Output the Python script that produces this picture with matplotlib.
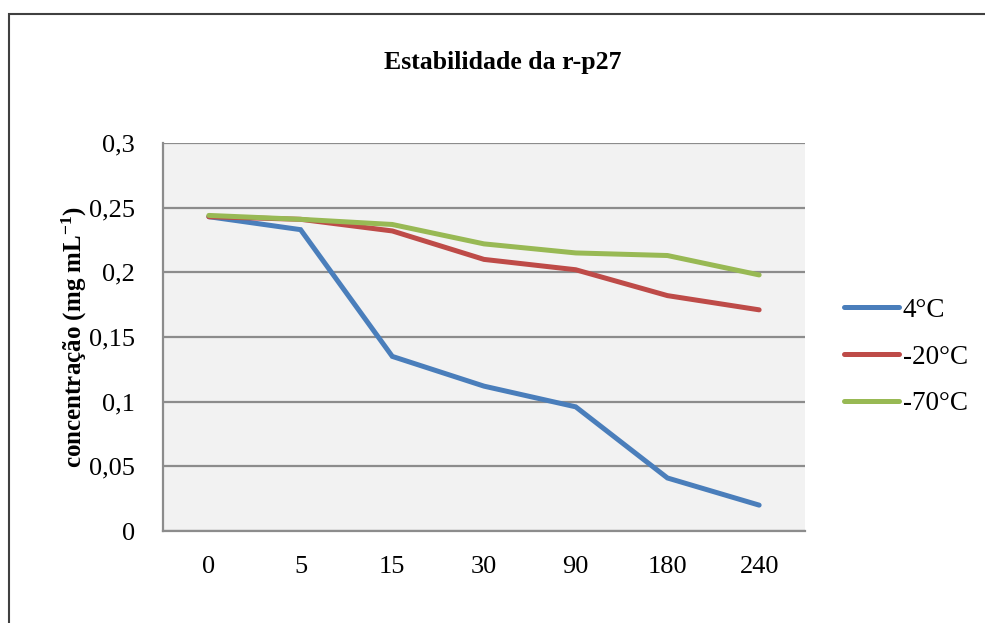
import matplotlib
matplotlib.use("Agg")
import matplotlib.pyplot as plt
from matplotlib.patches import Rectangle

categories = ["0", "5", "15", "30", "90", "180", "240"]
s_4 = [0.243, 0.233, 0.135, 0.112, 0.096, 0.041, 0.020]
s_m20 = [0.243, 0.241, 0.232, 0.210, 0.202, 0.182, 0.171]
s_m70 = [0.244, 0.241, 0.237, 0.222, 0.215, 0.213, 0.198]
series_names = ["4°C", "-20°C", "-70°C"]
colors = ["#4a7ebb", "#be4b48", "#98b954"]
yticks = [0, 0.05, 0.1, 0.15, 0.2, 0.25, 0.3]
ytick_labels = ["0", "0,05", "0,1", "0,15", "0,2", "0,25", "0,3"]

plt.rcParams['font.family'] = ['Liberation Serif', 'DejaVu Serif']
plt.rcParams['mathtext.fontset'] = 'custom'
plt.rcParams['mathtext.rm'] = 'Liberation Serif'
plt.rcParams['mathtext.bf'] = 'Liberation Serif:bold'
plt.rcParams['mathtext.it'] = 'Liberation Serif:italic'

fig = plt.figure(figsize=(9.85, 6.23), dpi=100)
W, H = 985, 623
# outer chart border
fig.patches.append(Rectangle((9 / W, -0.1), 1.2, (H - 14) / H + 0.1, transform=fig.transFigure,
                             fill=False, edgecolor="#404040", linewidth=1.5))

ax = fig.add_axes([163 / W, (H - 531) / H, (805 - 163) / W, (531 - 143) / H])
ax.set_facecolor("#f2f2f2")
x = list(range(len(categories)))
for vals, name, c in zip([s_4, s_m20, s_m70], series_names, colors):
    ax.plot(x, vals, color=c, linewidth=3.6, label=name, solid_capstyle="round",
            solid_joinstyle="miter")

ax.set_xlim(-0.5, len(categories) - 0.5)
ax.set_ylim(0, 0.3)
ax.set_yticks(yticks)
ax.set_yticklabels(ytick_labels)
ax.set_xticks(x)
ax.set_xticklabels(categories)
ax.yaxis.grid(True, color="#8c8c8c", linewidth=1.6)
ax.set_axisbelow(True)
ax.tick_params(axis="both", length=0, labelsize=19)
ax.tick_params(axis="y", pad=20)
ax.tick_params(axis="x", pad=18)
for s in ["top", "right"]:
    ax.spines[s].set_visible(False)
for s in ["left", "bottom"]:
    ax.spines[s].set_color("#8c8c8c")
    ax.spines[s].set_linewidth(1.6)

ax.set_ylabel("concentração (mg mL$^{\\mathbf{-1}}$)", fontsize=18, fontweight="bold")
ax.yaxis.set_label_coords((89 - 163) / 642, 0.5)
fig.text(503 / W, 1 - 63 / H, "Estabilidade da r-p27", ha="center", va="center",
         fontsize=18.5, fontweight="bold")

leg = ax.legend(loc="center left", bbox_to_anchor=(820 / W, 1 - 357 / H),
                bbox_transform=fig.transFigure, frameon=False, fontsize=19.5,
                handlelength=2.0, handletextpad=0.15, labelspacing=0.8)

fig.savefig("out.png", dpi=100)
